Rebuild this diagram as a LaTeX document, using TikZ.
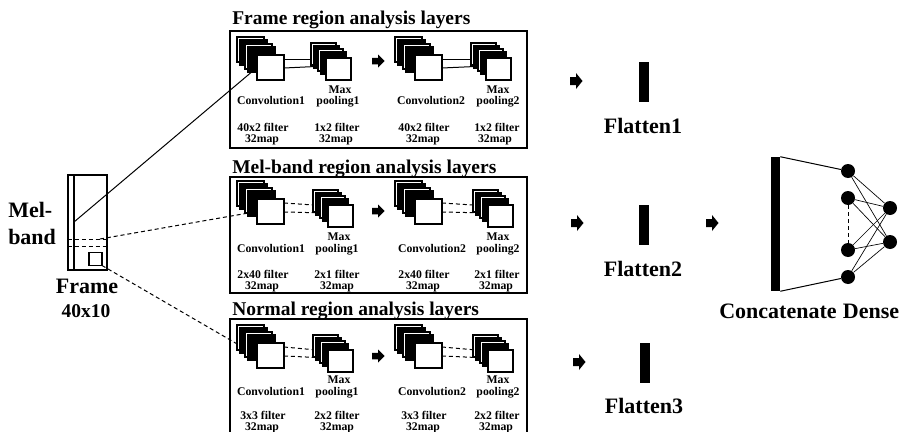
\documentclass[tikz,border=0pt]{standalone}
\usepackage{fontspec}
\setmainfont{Liberation Serif}
\usetikzlibrary{backgrounds}

% stack of convolution feature maps, back corner at (#2,#3), front map named #1
\newcommand\convmaps[3]{%
  \draw[mapW] (#2,#3) rectangle ++(27,25);
  \draw[mapB] (#2+3,#3+3) rectangle ++(27,25);
  \draw[mapW] (#2+8,#3+7) rectangle ++(27,25);
  \draw[mapB] (#2+11,#3+10) rectangle ++(27,25);
  \node[fmap, minimum width=20.25pt, minimum height=18.75pt] (#1) at (#2+20,#3+18) {};
}
% stack of pooled feature maps
\newcommand\poolmaps[3]{%
  \draw[mapW] (#2,#3) rectangle ++(25,22);
  \draw[mapB] (#2+3,#3+3) rectangle ++(25,22);
  \draw[mapW] (#2+7,#3+6) rectangle ++(25,22);
  \draw[mapB] (#2+10,#3+9) rectangle ++(25,22);
  \node[fmap, minimum width=18.75pt, minimum height=16.5pt] (#1) at (#2+15,#3+15) {};
}
% filled block arrow pointing right, centred at (#2,#3), head half height #4
\newcommand\blockarrow[4]{%
  \coordinate (#1) at (#2,#3);
  \fill (#2-6,#3-#4*0.5) -- (#2,#3-#4*0.5) -- (#2,#3-#4) -- (#2+6.5,#3)
        -- (#2,#3+#4) -- (#2,#3+#4*0.5) -- (#2-6,#3+#4*0.5) -- cycle;
}

\begin{document}
\begin{tikzpicture}[x=0.75pt,y=-0.75pt,
  mapW/.style={draw, fill=white, line width=0.8pt},
  mapB/.style={draw, fill=black, line width=0.8pt},
  fmap/.style={mapW, rectangle, inner sep=0pt, outer sep=0pt, anchor=north west},
  panel/.style={draw, line width=1.5pt},
  title/.style={font=\fontsize{14.6}{16}\selectfont\bfseries, anchor=base west, inner sep=0pt},
  small/.style={font=\fontsize{8.8}{9}\selectfont\bfseries, anchor=base, inner sep=0pt},
  big/.style={font=\fontsize{16.5}{18}\selectfont\bfseries, anchor=base, inner sep=0pt},
  link/.style={line width=0.75pt},
  dlink/.style={line width=0.75pt, dash pattern=on 3pt off 2.2pt},
  thinlink/.style={line width=0.5pt},
  neuron/.style={circle, fill=black, minimum size=10.5pt, inner sep=0pt},
  flat/.style={rectangle, fill=black, minimum width=7.5pt, minimum height=30pt, inner sep=0pt}]

\useasboundingbox (0,0) rectangle (904,432);
\clip (0,0) rectangle (904,432);

% ---------------- input frame ----------------
\draw[line width=1.5pt] (68,175) rectangle (107,270);
\draw[line width=1pt] (74,175) -- (74,270);
\draw[dlink] (68,239) -- (107,239);
\draw[dlink] (68,246) -- (107,246);
\node[draw, line width=1.1pt, minimum size=9.75pt, inner sep=0pt, outer sep=0pt] (patch) at (95.5,259) {};
\coordinate (fr-src) at (74,222);
\coordinate (mb-src) at (100,239);
\node[big, anchor=base west] (lab-mel) at (8,217) {Mel-};
\node[big, anchor=base west] (lab-band) at (8,244) {band};
\node[big] (lab-frame) at (87,293) {Frame};
\node[font=\fontsize{14.6}{16}\selectfont\bfseries, anchor=base, inner sep=0pt] (lab-size) at (86,317) {40x10};

% ---------------- frame region panel ----------------
\node[title] (t-f) at (232,25) {Frame region analysis layers};
\draw[panel] (230,31) rectangle (527,148);
\convmaps{f-c1}{237}{37}
\poolmaps{f-p1}{311}{43}
\convmaps{f-c2}{395}{37}
\poolmaps{f-p2}{471}{43}
\blockarrow{f-ar}{378}{61}{6.5}
\node[small] at (271,104) {Convolution1};
\node[small] at (340,93) {Max};
\node[small] at (338,104.5) {pooling1};
\node[small] at (263,131) {40x2 filter};
\node[small] at (262,142.5) {32map};
\node[small] at (337,131) {1x2 filter};
\node[small] at (336,142.5) {32map};
\node[small] at (431,104) {Convolution2};
\node[small] at (498,93) {Max};
\node[small] at (498,104.5) {pooling2};
\node[small] at (424,131) {40x2 filter};
\node[small] at (423,142.5) {32map};
\node[small] at (497,131) {1x2 filter};
\node[small] at (495,142.5) {32map};

% ---------------- mel-band region panel ----------------
\node[title] (t-m) at (232,173) {Mel-band region analysis layers};
\draw[panel] (230,177) rectangle (527,293);
\convmaps{m-c1}{237}{181}
\poolmaps{m-p1}{313}{190}
\convmaps{m-c2}{395}{181}
\poolmaps{m-p2}{473}{190}
\blockarrow{m-ar}{378}{211}{6.5}
\node[small] at (271,252) {Convolution1};
\node[small] at (339,240.5) {Max};
\node[small] at (337,252) {pooling1};
\node[small] at (263,278) {2x40 filter};
\node[small] at (262,289.5) {32map};
\node[small] at (337,278) {2x1 filter};
\node[small] at (337,289.5) {32map};
\node[small] at (432,252) {Convolution2};
\node[small] at (498,240.5) {Max};
\node[small] at (498,252) {pooling2};
\node[small] at (424,278) {2x40 filter};
\node[small] at (423,289.5) {32map};
\node[small] at (497,278) {2x1 filter};
\node[small] at (496,289.5) {32map};

% ---------------- normal region panel ----------------
\node[title] (t-n) at (232,315) {Normal region analysis layers};
\draw[panel] (230,319) rectangle (527,445);
\convmaps{n-c1}{237}{325}
\poolmaps{n-p1}{313}{335}
\convmaps{n-c2}{395}{325}
\poolmaps{n-p2}{473}{335}
\blockarrow{n-ar}{378}{356}{6.5}
\node[small] at (271,395) {Convolution1};
\node[small] at (339,383.5) {Max};
\node[small] at (337,395) {pooling1};
\node[small] at (263,419) {3x3 filter};
\node[small] at (262,430) {32map};
\node[small] at (337,419) {2x2 filter};
\node[small] at (337,430) {32map};
\node[small] at (432,395) {Convolution2};
\node[small] at (498,383.5) {Max};
\node[small] at (498,395) {pooling2};
\node[small] at (424,419) {3x3 filter};
\node[small] at (423,430) {32map};
\node[small] at (497,419) {2x2 filter};
\node[small] at (496,430) {32map};

% ---------------- flatten layers ----------------
\blockarrow{fl-ar1}{576}{81}{8}
\blockarrow{fl-ar2}{577}{223}{8}
\blockarrow{fl-ar3}{579}{362}{8}
\node[flat] (fl1) at (644,82) {};
\node[flat] (fl2) at (644,224.5) {};
\node[flat] (fl3) at (644.5,362.5) {};
\node[big] at (643,133) {Flatten1};
\node[big] at (643,276) {Flatten2};
\node[big] at (644,413) {Flatten3};

% ---------------- concatenate and dense ----------------
\blockarrow{cc-ar}{712}{223}{8}
\node[rectangle, fill=black, minimum width=6.75pt, minimum height=100.5pt, inner sep=0pt] (concat) at (775.5,224) {};
\node[neuron] (d1) at (848,171) {};
\node[neuron] (d2) at (848,198) {};
\node[neuron] (d3) at (848,250) {};
\node[neuron] (d4) at (848,277) {};
\node[neuron] (e1) at (890,208) {};
\node[neuron] (e2) at (890,242) {};
\draw[link] (concat.north east) -- (d1);
\draw[link] (concat.south east) -- (d4);
\draw[dlink] (d2) -- (d3);
\foreach \a in {d1,d2,d3,d4}
  \foreach \b in {e1,e2}
    \draw[thinlink] (\a) -- (\b);
\node[big] at (778,318) {Concatenate};
\node[big] at (871,318) {Dense};

% ---------------- connectors behind the feature maps ----------------
\begin{scope}[on background layer]
  \draw[link] (fr-src) -- (f-c1.west);
  \draw[dlink] (mb-src) -- (m-c1.west);
  \draw[dlink] (patch.south east) -- (n-c1.west);
  \foreach \p/\c/\q/\s in {f/c1/p1/link, f/c2/p2/link, m/c1/p1/dlink, m/c2/p2/dlink, n/c1/p1/dlink, n/c2/p2/dlink} {
    \draw[\s] ([yshift=-3pt]\p-\c.north east) -- ([yshift=-0.75pt]\p-\q.north west);
    \draw[\s] ([yshift=-9.75pt]\p-\c.north east) -- ([yshift=-6pt]\p-\q.north west);
  }
\end{scope}
\end{tikzpicture}
\end{document}
